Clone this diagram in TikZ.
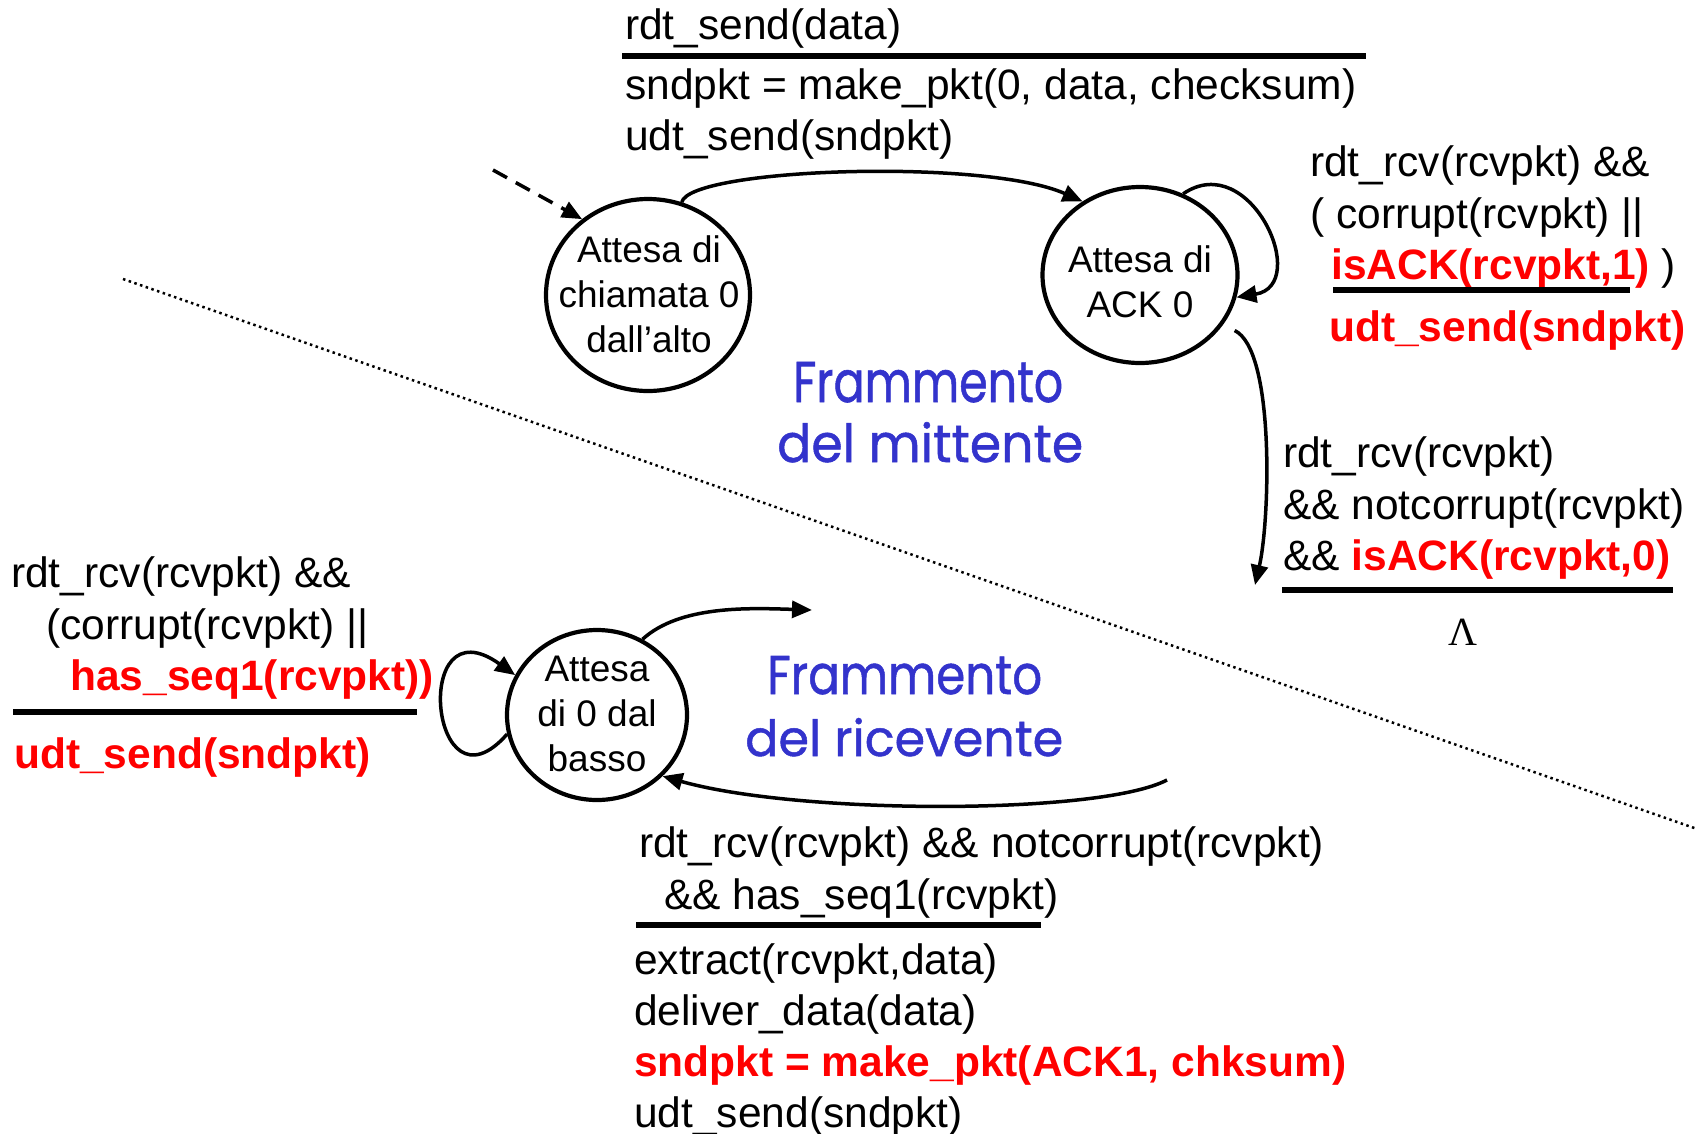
\documentclass[tikz,border=0pt]{standalone}
\usepackage{graphicx}
\usepackage{fontspec}
\setmainfont{Liberation Sans}
\newfontfamily\handfont[FakeBold=1]{Poppins}
\newfontfamily\greekfont{Liberation Serif}
\usetikzlibrary{arrows.meta,shapes.geometric}
\definecolor{actred}{RGB}{255,0,0}
\definecolor{noteblue}{RGB}{51,51,204}
\newcommand{\txtsize}{\fontsize{42.5}{51}\selectfont}
\newcommand{\notetext}[1]{{\handfont\fontsize{55}{60}\selectfont #1}}
\tikzset{
  line/.style={anchor=base west, inner sep=0pt, font=\txtsize},
  redline/.style={line, text=actred, font=\txtsize\bfseries},
  state/.style={ellipse, draw, line width=4.2pt, inner sep=0pt},
  statetext/.style={inner sep=0pt, align=center, font=\fontsize{37}{45}\selectfont},
  trans/.style={line width=3.5pt, -{Triangle[length=20pt,width=17pt]}},
  bar/.style={line width=5.5pt},
  note/.style={anchor=base west, inner sep=0pt, text=noteblue},
}
\begin{document}
\begin{tikzpicture}[x=1pt,y=-1pt]
\fill[white] (0,0) rectangle (1695,1133);
\useasboundingbox (0,0) rectangle (1695,1133);

% dotted boundary between sender and receiver fragments
\coordinate (sepA) at (123,279);
\coordinate (sepB) at (1700,830);
\draw[line width=2.5pt, dash pattern=on 2.5pt off 3.5pt] (sepA) -- (sepB);

% states
\node[state, minimum width=204pt, minimum height=192pt] (A) at (648,295) {};
\node[statetext] (Atext) at (649,294) {Attesa di\\chiamata 0\\dall'alto};
\node[state, minimum width=195pt, minimum height=176pt] (B) at (1140,275) {};
\node[statetext] (Btext) at (1140,282) {Attesa di\\ACK 0};
\node[state, minimum width=180pt, minimum height=170pt] (C) at (597,715) {};
\node[statetext] (Ctext) at (597,714) {Attesa\\di 0 dal\\basso};

% transitions
\coordinate (init) at (493,170);
\draw[trans, dash pattern=on 16pt off 10pt] (init) -- (A.131);
\draw[trans] (A.70) .. controls (690,168) and (985,158) .. (B.128);
\draw[trans] (B.62) .. controls (1250,148) and (1312,285) .. (B.-13);
\coordinate (ackzero) at (1255,585);
\draw[trans, shorten <=13pt] (B.-31) .. controls (1275,350) and (1270,520) .. (ackzero);
\draw[trans] (C.192) .. controls (430,822) and (410,600) .. (C.154);
\coordinate (toone) at (812,610);
\draw[trans] (C.59) .. controls (680,605) and (750,608) .. (toone);
\coordinate (fromone) at (1167,780);
\draw[trans] (fromone) .. controls (1100,815) and (800,815) .. (C.-43);

% sender: rdt_send
\node[line] (sendev) at (625,39) {rdt\_send(data)};
\draw[bar] (622,56) -- (1366,56);
\node[line] (sendact1) at (625,99) {sndpkt = make\_pkt(0, data, checksum)};
\node[line] (sendact2) at (625,150) {udt\_send(sndpkt)};

% sender: corrupt or wrong ACK
\node[line] (nak1) at (1310,176) {rdt\_rcv(rcvpkt) \&\&};
\node[line] (nak2) at (1310,228) {( corrupt(rcvpkt) ||};
\node[line] (nak3) at (1331,279) {\textcolor{actred}{\bfseries isACK(rcvpkt,1)} )};
\draw[bar] (1333,290) -- (1630,290);
\node[redline] (nak4) at (1329,341) {udt\_send(sndpkt)};

% sender: ACK 0 received
\node[line] (ack1) at (1283,467) {rdt\_rcv(rcvpkt)};
\node[line] (ack2) at (1283,519) {\&\& notcorrupt(rcvpkt)};
\node[line] (ack3) at (1283,570) {\&\& \textcolor{actred}{\bfseries isACK(rcvpkt,0)}};
\draw[bar] (1282,590) -- (1673,590);
\node[anchor=base, inner sep=0pt, font=\greekfont\fontsize{40}{48}\selectfont] (lambda) at (1463,645) {Λ};

% receiver: corrupt or duplicate
\node[line] (dup1) at (11,587) {rdt\_rcv(rcvpkt) \&\&};
\node[line] (dup2) at (46,639) {(corrupt(rcvpkt) ||};
\node[redline] (dup3) at (70,690) {has\_seq1(rcvpkt))};
\draw[bar] (13,712) -- (417,712);
\node[redline] (dup4) at (14,768) {udt\_send(sndpkt)};

% receiver: good packet with seq 1
\node[line] (rcv1) at (639,857) {rdt\_rcv(rcvpkt) \&\& notcorrupt(rcvpkt)};
\node[line] (rcv2) at (664,909) {\&\& has\_seq1(rcvpkt)};
\draw[bar] (636,925) -- (1041,925);
\node[line] (rcv3) at (634,974) {extract(rcvpkt,data)};
\node[line] (rcv4) at (634,1025) {deliver\_data(data)};
\node[redline] (rcv5) at (634,1076) {sndpkt = make\_pkt(ACK1, chksum)};
\node[line] (rcv6) at (634,1127) {udt\_send(sndpkt)};

% fragment captions
\node[note] (snd1) at (793,402) {\resizebox{270pt}{40pt}{\notetext{Frammento}}};
\node[note] (snd2) at (777,462) {\resizebox{306pt}{40pt}{\notetext{del mittente}}};
\node[note] (rcvn1) at (767,694) {\resizebox{275pt}{38pt}{\notetext{Frammento}}};
\node[note] (rcvn2) at (745,756) {\resizebox{318pt}{38pt}{\notetext{del ricevente}}};
\end{tikzpicture}
\end{document}
